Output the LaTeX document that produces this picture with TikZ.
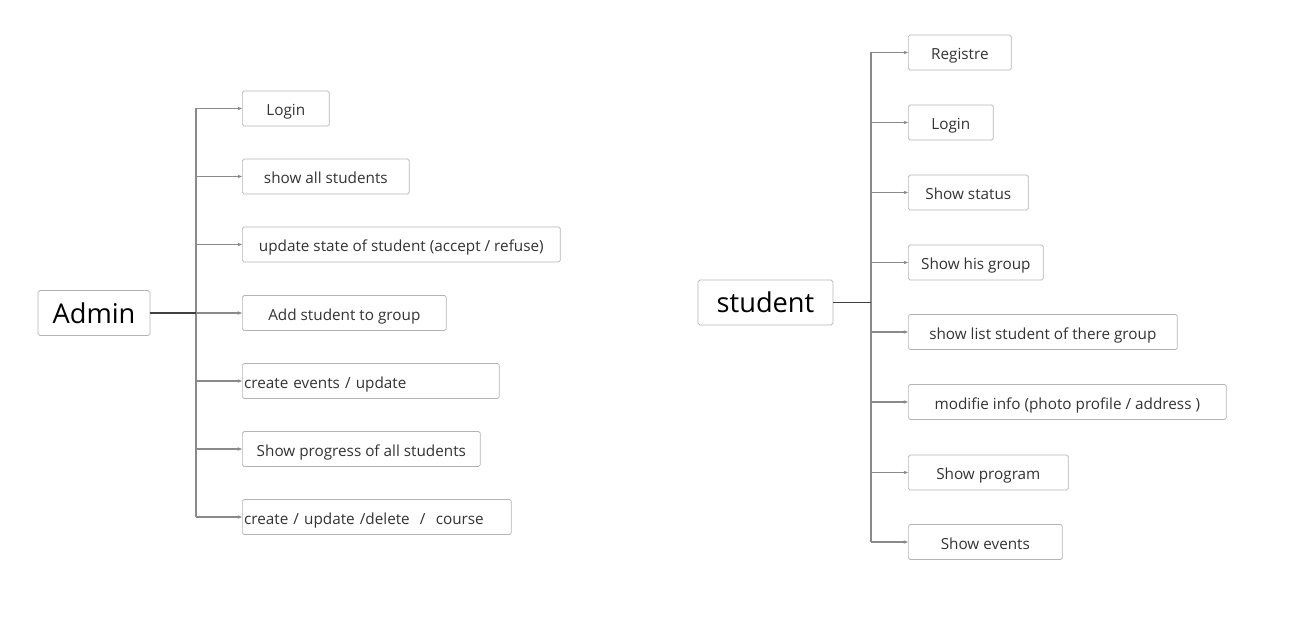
\documentclass[tikz,border=0pt]{standalone}
\usepackage{fontspec}
\setmainfont{Open Sans}
\usetikzlibrary{arrows.meta,positioning}
\definecolor{BoxLine}{HTML}{B4B4B4}
\definecolor{WireGray}{HTML}{8A8A8A}
\definecolor{TextDark}{HTML}{333333}
\tikzset{
  actor/.style={draw=BoxLine,rounded corners=1pt,inner sep=0pt,text=black,
    font=\fontsize{15.5}{18}\selectfont,minimum height=0.9cm},
  item/.style={draw=BoxLine,rounded corners=1pt,inner sep=1pt,anchor=west,
    minimum height=0.7cm,text height=1em,text depth=0.15em,
    text=TextDark,font=\fontsize{8.7}{10}\selectfont},
  leftitem/.style={item,align=left},
  branch/.style={draw=WireGray,line width=0.6pt,-{Stealth[length=2.5pt,width=2pt]}},
  trunk/.style={draw=WireGray,line width=0.6pt},
  stem/.style={draw=black!75,line width=1pt}
}
\begin{document}
\begin{tikzpicture}[x=0.02cm,y=-0.02cm]
  \useasboundingbox (0,0) rectangle (1289,628);

  % admin side
  \node[actor,minimum width=2.24cm] (admin) at (94,313) {Admin};
  \coordinate (ta) at (196,313);
  \node[item,minimum width=1.74cm] (a1) at (242,108.5) {Login};
  \node[item,minimum width=3.34cm] (a2) at (242,176.5) {show all students};
  \node[item,minimum width=6.36cm] (a3) at (242,244.5) {update state of student (accept / refuse)};
  \node[item,minimum width=4.08cm] (a4) at (242,313) {Add student to group};
  \node[leftitem,text width=5.07cm] (a5) at (242,381) {create events / update};
  \node[item,minimum width=4.76cm] (a6) at (242,449) {Show progress of all students};
  \node[leftitem,text width=5.31cm] (a7) at (242,517) {create / update /delete \ / \ course};

  \draw[trunk] (ta |- a1.west) -- (ta |- a7.west);
  \draw[stem] (admin.east) -- (ta);
  \foreach \i in {1,...,7} {
    \draw[branch] (ta |- a\i.west) -- (a\i.west);
  }

  % student side
  \node[actor,minimum width=2.7cm] (stud) at (765.5,302.5) {student};
  \coordinate (ts) at (871,302.5);
  \node[item,minimum width=2.06cm] (s1) at (908,52.5) {Registre};
  \node[item,minimum width=1.70cm] (s2) at (908,122.5) {Login};
  \node[item,minimum width=2.40cm] (s3) at (908,192.5) {Show status};
  \node[item,minimum width=2.70cm] (s4) at (908,262.5) {Show his group};
  \node[item,minimum width=5.38cm] (s5) at (908,332) {show list student of there group};
  \node[item,minimum width=6.36cm] (s6) at (908,402) {modifie info (photo profile / address )};
  \node[item,minimum width=3.20cm] (s7) at (908,472.5) {Show program};
  \node[item,minimum width=3.08cm] (s8) at (908,542) {Show events};

  \draw[trunk] (ts |- s1.west) -- (ts |- s8.west);
  \draw[stem] (stud.east) -- (ts);
  \foreach \i in {1,...,8} {
    \draw[branch] (ts |- s\i.west) -- (s\i.west);
  }
\end{tikzpicture}
\end{document}
